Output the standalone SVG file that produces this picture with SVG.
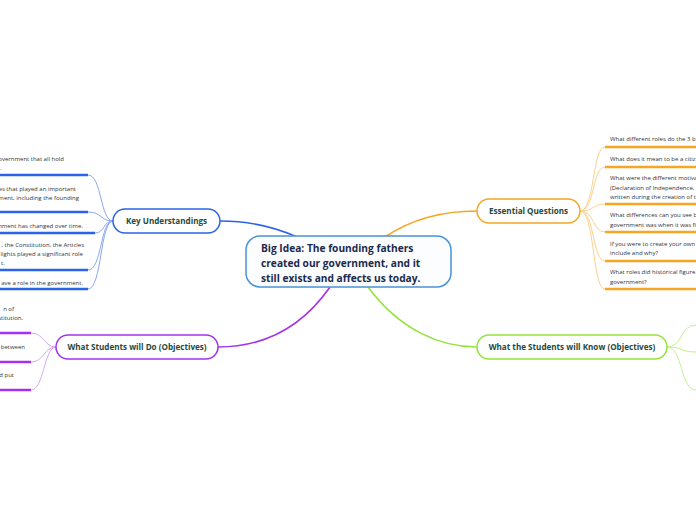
<svg xmlns="http://www.w3.org/2000/svg" width="696" height="520" viewBox="0 0 696 520">
<style>
.t{font-family:"Open Sans","Noto Sans","Liberation Sans",sans-serif;font-size:6px;fill:#333}
.nt{font-family:"Open Sans","Noto Sans","Liberation Sans",sans-serif;font-size:8.1px;font-weight:bold;fill:#1e4a3c;text-anchor:middle}
.ct{font-family:"Open Sans","Noto Sans","Liberation Sans",sans-serif;font-size:10.2px;font-weight:bold;fill:#1c2a4c}
.c{fill:none}
.bl{stroke:#2b63e8}.blc{stroke:#8aa6f2}
.or{stroke:#f5a623}.orc{stroke:#fbd28f}
.gr{stroke:#94e43c}.grc{stroke:#c3f08d}
.pu{stroke:#a232ee}.puc{stroke:#d9a6f6}
.ul{stroke-width:2.5}
.cv{stroke-width:1}
.mc{stroke-width:1.6}
</style>
<rect width="696" height="520" fill="#fff"/>
<g id="connectors" class="c">
<path class="bl mc" d="M297,237 C270,225 245,221 220,221"/>
<path class="or mc" d="M385,237 C410,220 440,211 477,211"/>
<path class="gr mc" d="M368,287 C400,330 440,347 477,347"/>
<path class="pu mc" d="M330,287 C300,330 260,347 218,347"/>
<path class="blc cv" d="M113,221 C100,221 102,175 88,175"/>
<path class="blc cv" d="M113,221 C100,221 102,212 88,212"/>
<path class="blc cv" d="M113,221 C103,221 105,233 95,233"/>
<path class="blc cv" d="M113,221 C100,221 102,270 88,270"/>
<path class="blc cv" d="M113,221 C100,221 102,289 88,289"/>
<path class="bl ul" d="M0,175 H88 M0,212 H88 M0,233 H95 M0,270 H88 M0,289 H88"/>
<path class="orc cv" d="M580,211 C595,211 592,147 605,147"/>
<path class="orc cv" d="M580,211 C595,211 592,167 605,167"/>
<path class="orc cv" d="M580,211 C595,211 592,204 605,204"/>
<path class="orc cv" d="M580,211 C595,211 592,232 605,232"/>
<path class="orc cv" d="M580,211 C595,211 592,261 605,261"/>
<path class="orc cv" d="M580,211 C595,211 592,289 605,289"/>
<path class="or ul" d="M605,147 H696 M605,167 H696 M605,204 H696 M605,232 H696 M605,261 H696 M605,289 H696"/>
<path class="grc cv" d="M667,347 C683,347 680,325 696,325"/>
<path class="grc cv" d="M667,347 C683,347 680,352 696,352"/>
<path class="grc cv" d="M667,347 C683,347 680,390 696,390"/>
<path class="puc cv" d="M56,347 C44,347 44,333 31,333"/>
<path class="puc cv" d="M56,347 C44,347 44,362 31,362"/>
<path class="puc cv" d="M56,347 C44,347 44,390 31,390"/>
<path class="pu ul" d="M0,333 H31 M0,362 H31 M0,390 H31"/>
</g>
<g id="central">
<rect x="246" y="236" width="205" height="51" rx="14" fill="#fbfdff" stroke="#4a92d8" stroke-width="1.5"/>
<text class="ct" x="261" y="252">Big Idea: The founding fathers</text>
<text class="ct" x="261" y="267">created our government, and it</text>
<text class="ct" x="261" y="282">still exists and affects us today.</text>
</g>
<g id="key">
<rect x="113" y="209" width="107" height="24" rx="12" fill="#fff" stroke="#2b63e8" stroke-width="1.5"/>
<text class="nt" x="166.5" y="224">Key Understandings</text>
</g>
<g id="essential">
<rect x="477" y="199" width="103" height="24" rx="12" fill="#fff" stroke="#f5a623" stroke-width="1.5"/>
<text class="nt" x="528.5" y="214">Essential Questions</text>
</g>
<g id="know">
<rect x="477" y="335" width="190" height="24" rx="12" fill="#fff" stroke="#94e43c" stroke-width="1.5"/>
<text class="nt" x="572" y="350">What the Students will Know (Objectives)</text>
</g>
<g id="do">
<rect x="56" y="335" width="162" height="24" rx="12" fill="#fff" stroke="#a232ee" stroke-width="1.5"/>
<text class="nt" x="137" y="350">What Students will Do (Objectives)</text>
</g>
<g id="key-items">
<text class="t" x="64" y="161" text-anchor="end">overnment that all hold</text>
<text class="t" x="0" y="170">.</text>
<text class="t" x="76" y="191" text-anchor="end">es that played an important</text>
<text class="t" x="79" y="200" text-anchor="end">ment, including the founding</text>
<text class="t" x="83" y="228" text-anchor="end">mment has changed over time.</text>
<text class="t" x="84" y="247" text-anchor="end">, the Constitution, the Articles</text>
<text class="t" x="83" y="256" text-anchor="end">lights played a significant role</text>
<text class="t" x="1" y="265">t.</text>
<text class="t" x="83" y="285" text-anchor="end">ave a role in the government.</text>
</g>
<g id="essential-items">
<text class="t" x="610" y="141">What different roles do the 3 b</text>
<text class="t" x="610" y="161">What does it mean to be a citiz</text>
<text class="t" x="610" y="180">What were the different motiva</text>
<text class="t" x="610" y="190">(Declaration of Independence,</text>
<text class="t" x="610" y="199">written during the creation of t</text>
<text class="t" x="610" y="217">What differences can you see b</text>
<text class="t" x="610" y="227">government was when it was fi</text>
<text class="t" x="610" y="246">If you were to create your own</text>
<text class="t" x="610" y="255">include and why?</text>
<text class="t" x="610" y="274">What roles did historical figure</text>
<text class="t" x="610" y="284">government?</text>
</g>
<g id="do-items">
<text class="t" x="14" y="311" text-anchor="end">n of</text>
<text class="t" x="23" y="320" text-anchor="end">stitution,</text>
<text class="t" x="25" y="349" text-anchor="end">between</text>
<text class="t" x="14" y="377" text-anchor="end">d put</text>
</g>
</svg>
